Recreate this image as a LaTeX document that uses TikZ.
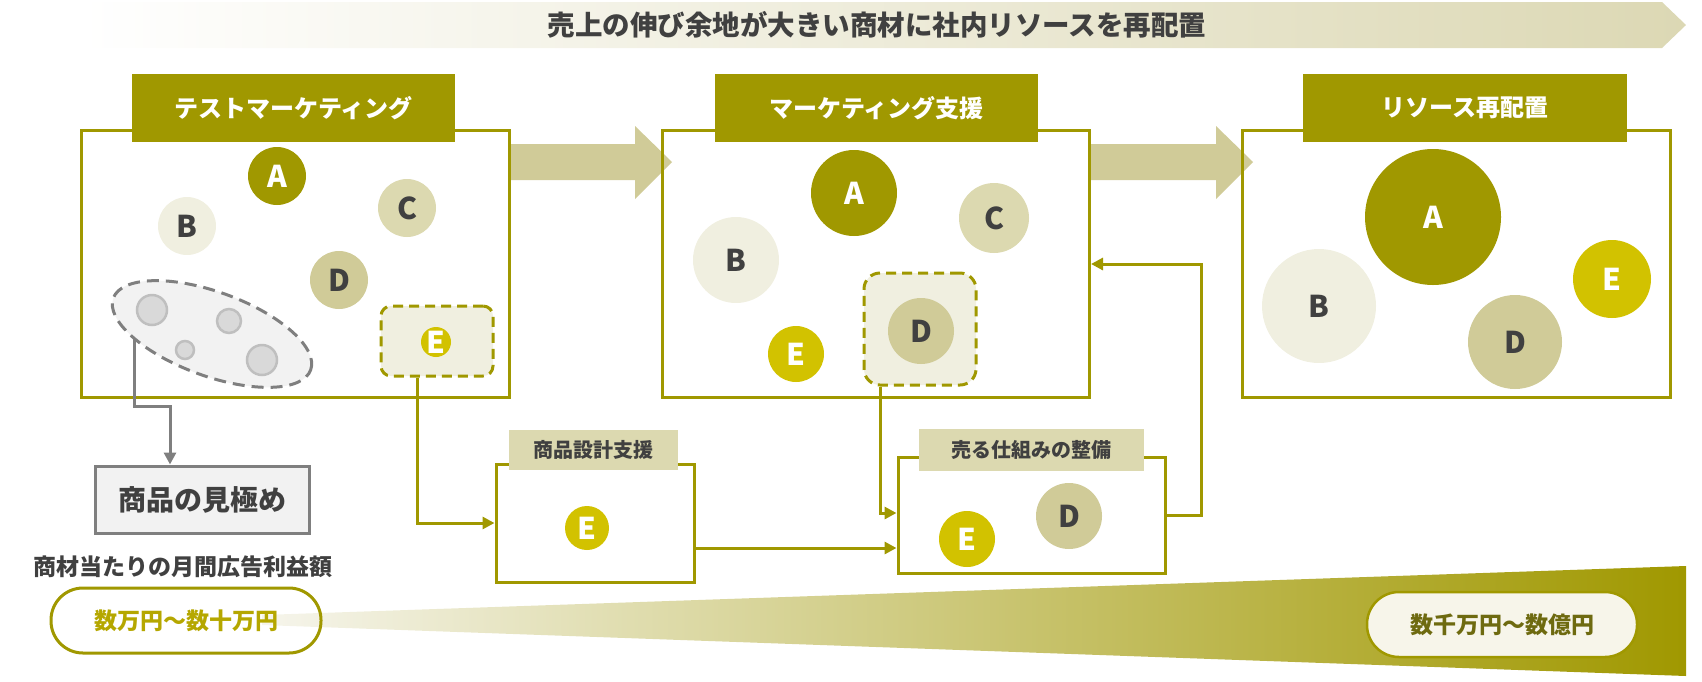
\documentclass[tikz,border=0pt]{standalone}
\usepackage{fontspec}
\setmainfont{Noto Sans CJK JP}
\usetikzlibrary{arrows.meta,shapes.geometric,calc}
\definecolor{oliveD}{HTML}{A09800}
\definecolor{yelE}{HTML}{D2C200}
\definecolor{tanC}{HTML}{DCD9B0}
\definecolor{tanD}{HTML}{D0CB98}
\definecolor{creamB}{HTML}{F0EFE0}
\definecolor{txtD}{HTML}{404040}
\definecolor{grayD}{HTML}{7F7F7F}
\definecolor{grayL}{HTML}{F2F2F2}
\definecolor{grayM}{HTML}{D9D9D9}
\definecolor{grayS}{HTML}{BFBFBF}
\definecolor{bannerR}{HTML}{DCD8B4}
\definecolor{wedgeL}{HTML}{F6F5EC}
\definecolor{wedgeM}{HTML}{D5CD78}
\definecolor{pillT}{HTML}{B5A700}
\definecolor{pillT2}{HTML}{6E6A10}
\definecolor{pillF}{HTML}{F7F5EA}
\newcommand\myfs[1]{\fontsize{#1}{#1}\selectfont}
\tikzset{
  bub/.style={circle, inner sep=0pt, font=\myfs{30}\bfseries},
  bA/.style={bub, fill=oliveD, text=white},
  bB/.style={bub, fill=creamB, text=txtD},
  bC/.style={bub, fill=tanC, text=txtD},
  bD/.style={bub, fill=tanD, text=txtD},
  bE/.style={bub, fill=yelE, text=white},
  gdot/.style={circle, inner sep=0pt, fill=grayM, draw=grayS, line width=2.5pt},
  pbox/.style={draw=oliveD, line width=3pt, fill=none, inner sep=0pt, anchor=north west},
  hdr/.style={fill=oliveD, text=white, inner sep=0pt, font=\myfs{24}\bfseries},
  lbl/.style={fill=tanC, text=txtD, inner sep=0pt, font=\myfs{20}\bfseries},
  sbox/.style={draw=oliveD, line width=3pt, fill=white, inner sep=0pt},
  dbox/.style={draw=oliveD, line width=3pt, fill=creamB, dash pattern=on 10pt off 6pt, inner sep=0pt},
  conn/.style={draw=oliveD, line width=3pt, -{Triangle[length=12pt,width=12pt]}},
  gconn/.style={draw=grayD, line width=3pt, -{Triangle[length=12pt,width=12pt]}},
  bigarrow/.style={fill=tanD},
}
\begin{document}
\begin{tikzpicture}[x=1pt,y=-1pt]
\useasboundingbox (0,0) rectangle (1702,681);

% banner
\shade[left color=white, right color=bannerR] (81,2) -- (1662,2) -- (1686,25) -- (1662,48) -- (81,48) -- cycle;
\node[font=\myfs{27.5}\bfseries, text=txtD] (title) at (877,25) {売上の伸び余地が大きい商材に社内リソースを再配置};

% big arrows
\fill[bigarrow] (509,144) -- (635,144) -- (635,126) -- (672,162) -- (635,199) -- (635,180) -- (509,180) -- cycle;
\fill[bigarrow] (1090,144) -- (1216,144) -- (1216,126) -- (1253,162) -- (1216,199) -- (1216,180) -- (1090,180) -- cycle;

% panels
\node[pbox, minimum width=428pt, minimum height=267pt] (p1) at (80,129) {};
\node[pbox, minimum width=427pt, minimum height=267pt] (p2) at (661,129) {};
\node[pbox, minimum width=428pt, minimum height=267pt] (p3) at (1241,129) {};
\node[hdr, minimum width=323pt, minimum height=68pt] (h1) at (293.5,108) {テストマーケティング};
\node[hdr, minimum width=323pt, minimum height=68pt] (h2) at (876.5,108) {マーケティング支援};
\node[hdr, minimum width=324pt, minimum height=68pt] (h3) at (1465,108) {リソース再配置};

% panel 1
\node[bA, minimum size=58pt] (a1) at (277,176) {A};
\node[bB, minimum size=58pt] (b1) at (187,226) {B};
\node[bC, minimum size=58pt] (c1) at (407,208) {C};
\node[bD, minimum size=58pt] (d1) at (339,280) {D};
\coordinate (gstart) at (134,335);
\coordinate (gbend) at (170,406);
\node[inner sep=0pt, minimum width=214pt, minimum height=67pt, fill=grayL, draw=grayD, line width=3pt, text=txtD, font=\myfs{28}\bfseries] (miki) at (202,499.5) {商品の見極め};
\draw[gconn] (gstart) |- (gbend) -- (gbend |- miki.north);
\node[ellipse, fill=grayL, draw=grayD, line width=3pt, dash pattern=on 12pt off 7pt, minimum width=210pt, minimum height=84pt, rotate=-20, inner sep=0pt] (ell) at (212,334) {};
\node[gdot, minimum size=30pt] (g1) at (152,310) {};
\node[gdot, minimum size=24pt] (g2) at (229,321) {};
\node[gdot, minimum size=18pt] (g3) at (185,350) {};
\node[gdot, minimum size=30pt] (g4) at (262,360) {};
\node[dbox, rounded corners=10pt, minimum width=112pt, minimum height=70pt] (e1box) at (437,341) {};
\node[bE, minimum size=30pt] (e1) at (436,342) {E};

% panel 2
\node[bA, minimum size=86pt] (a2) at (854,193) {A};
\node[bB, minimum size=86pt] (b2) at (736,260) {B};
\node[bC, minimum size=70pt] (c2) at (994,218) {C};
\node[bE, minimum size=56pt] (e2) at (796,354) {E};
\node[dbox, rounded corners=16pt, minimum width=112pt, minimum height=112pt] (d2box) at (920,329) {};
\node[bD, minimum size=66pt] (d2) at (921,331) {D};

% panel 3
\node[bA, minimum size=136pt] (a3) at (1433,217) {A};
\node[bB, minimum size=114pt] (b3) at (1319,306) {B};
\node[bD, minimum size=94pt] (d3) at (1515,342) {D};
\node[bE, minimum size=78pt] (e3) at (1612,279) {E};

% support boxes
\node[sbox, minimum width=198pt, minimum height=118pt] (sekkei) at (595,523) {};
\node[lbl, minimum width=169pt, minimum height=40pt] (sekkeiL) at (593.5,450) {商品設計支援};
\node[bE, minimum size=44pt] (e4) at (587,528) {E};
\node[sbox, minimum width=267pt, minimum height=116pt] (uru) at (1031.5,515) {};
\node[lbl, minimum width=225pt, minimum height=42pt] (uruL) at (1031.5,450) {売る仕組みの整備};
\node[bE, minimum size=56pt] (e5) at (967,539) {E};
\node[bD, minimum size=66pt] (d5) at (1069,516) {D};

% connectors
\draw[conn] ([xshift=-20pt]e1box.south) |- (sekkei.west);
\draw[conn] ([xshift=-40pt]d2box.south) |- ([yshift=2pt]uru.west);
\coordinate (sk) at ([yshift=-25pt]sekkei.east);
\draw[conn] (sk) -- (sk -| uru.west);
\draw[conn] (uru.east) -- ++(35,0) |- (p2.east);

% bottom scale
\node[text=txtD, font=\myfs{23}\bfseries] (kingaku) at (183,567) {商材当たりの月間広告利益額};
\shade[left color=wedgeL, middle color=wedgeM, right color=oliveD] (262,615) -- (1686,566) -- (1686,676) -- (262,625) -- cycle;
\node[draw=oliveD, line width=3pt, fill=none, rounded corners=32pt, minimum width=270pt, minimum height=65pt, inner sep=0pt, text=pillT, font=\myfs{23}\bfseries] (pill1) at (186,620.5) {数万円〜数十万円};
\node[draw=oliveD, line width=2.5pt, fill=pillF, rounded corners=32pt, minimum width=270pt, minimum height=65pt, inner sep=0pt, text=pillT2, font=\myfs{23}\bfseries] (pill2) at (1502,624.5) {数千万円〜数億円};
\end{tikzpicture}
\end{document}
